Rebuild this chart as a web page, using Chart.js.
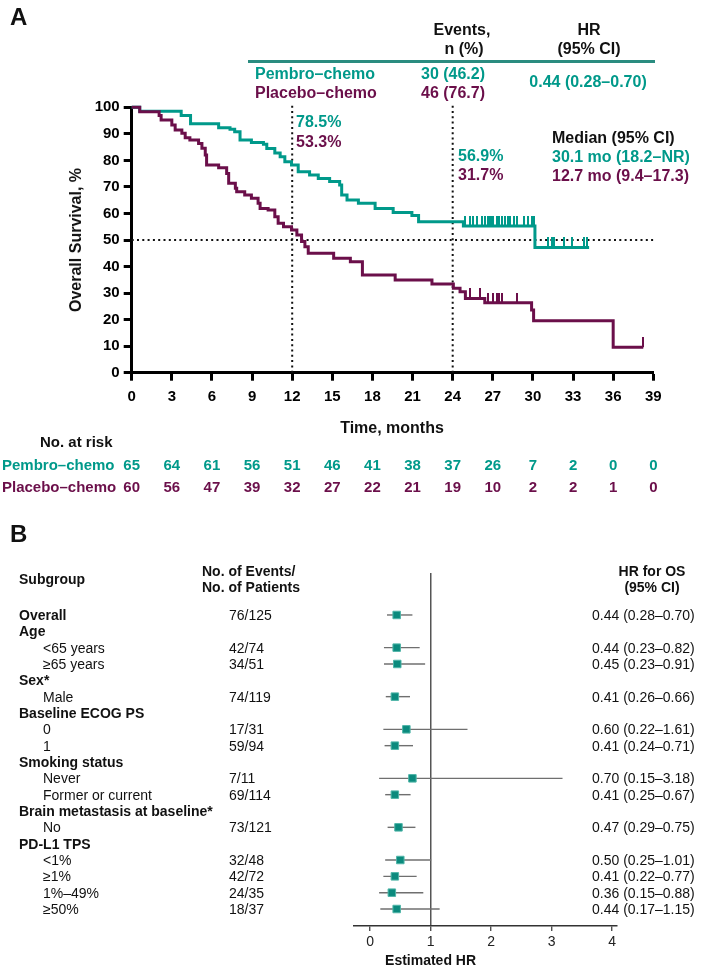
<!DOCTYPE html>
<html lang="en">
<head>
<meta charset="UTF-8">
<title>Overall survival – pembro–chemo vs placebo–chemo</title>
<script src="https://cdn.jsdelivr.net/npm/chart.js@4"></script>
<style>
  body { margin: 0; background: #fff; font-family: 'Liberation Sans', Arial, sans-serif; color: #111; }
  #page { position: relative; width: 702px; height: 970px; overflow: hidden; }
  canvas { position: absolute; left: 0; }
  #km { top: 0; }
  #forest { top: 560px; }
  .t { position: absolute; white-space: nowrap; line-height: 1; }
  .b { font-weight: bold; }
  #rule { position: absolute; left: 248px; top: 60px; width: 407px; height: 2.5px; background: #2a8c80; }
</style>
</head>
<body>
<div id="page">
  <canvas id="km" width="702" height="500"></canvas>
  <canvas id="forest" width="702" height="410"></canvas>
  <div id="rule"></div>
</div>
<script>
  const TEAL = '#00998a';
  const PLUM = '#6b0f4a';

  // Kaplan-Meier: month of each drop and survival (%) right after it
  const pembroTimes = [0, 0.6, 3.7, 4.4, 6.5, 7.35, 7.7, 8.1, 8.95, 9.85, 10.1, 10.7, 11.1, 11.45, 11.95, 12.45, 13.3, 13.95, 14.8, 15.55, 15.7, 16.1, 16.95, 18.2, 19.55, 20.95, 21.45, 24.8, 30.15, 34.2];
  const pembroSurv = [100, 98.5, 96.9, 93.8, 92.3, 91.7, 90.8, 87.7, 86.7, 86.1, 84.5, 82.8, 81.4, 79.5, 78.3, 75.7, 74.5, 73.2, 72.0, 70.7, 67.0, 65.1, 63.8, 61.9, 60.4, 59.2, 56.9, 55.3, 47.2, 47.2];
  const pembroCensored = [24.9, 25.3, 25.55, 25.8, 26.2, 26.4, 26.65, 26.8, 26.95, 27.05, 27.3, 27.5, 27.7, 27.9, 28.1, 28.3, 28.55, 28.8, 29.3, 29.65, 29.9, 30.05, 31.15, 31.4, 31.55, 32.3, 32.9, 33.8, 34.05];

  const placeboTimes = [0, 0.6, 2.05, 2.2, 3.0, 3.25, 3.75, 4.0, 4.35, 5.0, 5.25, 5.5, 5.6, 6.5, 7.1, 7.25, 7.75, 7.85, 8.45, 8.95, 9.45, 9.6, 10.2, 10.7, 10.95, 11.35, 11.95, 12.35, 12.7, 12.95, 13.2, 15.1, 16.35, 17.25, 19.7, 22.45, 24.05, 24.55, 24.95, 26.4, 29.9, 30.05, 36.0, 38.25];
  const placeboSurv = [100, 98.3, 96.9, 95.2, 93.3, 91.4, 90.2, 88.5, 87.7, 86.4, 84.6, 82.0, 78.3, 77.2, 75.1, 71.4, 69.5, 68.2, 67.0, 65.7, 63.8, 61.9, 61.3, 58.8, 56.3, 55.0, 53.8, 51.9, 49.4, 47.5, 45.0, 43.1, 41.8, 36.8, 34.9, 33.4, 31.8, 30.5, 28.0, 26.4, 23.6, 19.6, 9.6, 9.6];
  const placeboCensored = [25.3, 26.05, 26.65, 27.05, 27.3, 27.5, 27.65, 28.8, 38.25];

  const landmarkMonths = [12, 24];
  const medianLevel = 50;

  const riskTimes = [0, 3, 6, 9, 12, 15, 18, 21, 24, 27, 30, 33, 36, 39];
  const pembroAtRisk = [65, 64, 61, 56, 51, 46, 41, 38, 37, 26, 7, 2, 0, 0];
  const placeboAtRisk = [60, 56, 47, 39, 32, 27, 22, 21, 19, 10, 2, 2, 1, 0];

  // forest plot rows
  const subgroups = ['Overall', 'Age', '<65 years', '≥65 years', 'Sex*', 'Male', 'Baseline ECOG PS', '0', '1',
    'Smoking status', 'Never', 'Former or current', 'Brain metastasis at baseline*', 'No', 'PD-L1 TPS',
    '<1%', '≥1%', '1%–49%', '≥50%'];
  const isHeading = [true, true, false, false, true, false, true, false, false, true, false, false, true, false, true, false, false, false, false];
  const eventsPatients = ['76/125', '', '42/74', '34/51', '', '74/119', '', '17/31', '59/94', '', '7/11', '69/114', '', '73/121', '', '32/48', '42/72', '24/35', '18/37'];
  const hrEstimate = [0.44, null, 0.44, 0.45, null, 0.41, null, 0.60, 0.41, null, 0.70, 0.41, null, 0.47, null, 0.50, 0.41, 0.36, 0.44];
  const hrLow = [0.28, null, 0.23, 0.23, null, 0.26, null, 0.22, 0.24, null, 0.15, 0.25, null, 0.29, null, 0.25, 0.22, 0.15, 0.17];
  const hrHigh = [0.70, null, 0.82, 0.91, null, 0.66, null, 1.61, 0.71, null, 3.18, 0.67, null, 0.75, null, 1.01, 0.77, 0.88, 1.15];
  const hrTicks = [0, 1, 2, 3, 4];

  Chart.defaults.font.family = "'Liberation Sans', Arial, sans-serif";
  const page = document.getElementById('page');

  function label(str, x, y, o = {}) {
    const d = document.createElement('div');
    d.className = 't' + (o.bold ? ' b' : '');
    d.textContent = str;
    d.style.left = x + 'px';
    d.style.top = y + 'px';
    d.style.fontSize = (o.size || 16) + 'px';
    d.style.color = o.color || '#111';
    const tx = o.align === 'center' ? '-50%' : o.align === 'right' ? '-100%' : '0';
    d.style.transform = `translate(${tx}, -50%)` + (o.rotate ? ` rotate(${o.rotate}deg)` : '');
    page.appendChild(d);
  }

  function survAt(times, surv, t) {
    let s = surv[0];
    for (let i = 0; i < times.length; i++) if (times[i] <= t) s = surv[i];
    return s;
  }

  // small upward tick used as the censor mark
  function censorMark(color) {
    const c = document.createElement('canvas');
    c.width = 2; c.height = 20;
    const g = c.getContext('2d');
    g.fillStyle = color;
    g.fillRect(0, 0, 2, 10);
    return c;
  }

  function curve(times, surv, color) {
    return {
      type: 'line', data: times.map((t, i) => ({ x: t, y: surv[i] })),
      borderColor: color, borderWidth: 3, stepped: 'before', pointRadius: 0, clip: false, order: 2
    };
  }

  function censors(list, times, surv, color) {
    return {
      type: 'scatter', data: list.map(t => ({ x: t, y: survAt(times, surv, t) })),
      pointStyle: censorMark(color), pointRadius: 5, clip: false, order: 1
    };
  }

  const dotted = { type: 'line', borderColor: '#111', borderWidth: 2, borderDash: [2, 3.3], pointRadius: 0, order: 3 };

  const km = new Chart(document.getElementById('km'), {
    type: 'line',
    data: {
      datasets: [
        ...landmarkMonths.map(m => ({ ...dotted, data: [{ x: m, y: 0 }, { x: m, y: 101 }], clip: false })),
        { ...dotted, data: [{ x: 0, y: medianLevel }, { x: 39.1, y: medianLevel }], clip: false },
        curve(placeboTimes, placeboSurv, PLUM),
        curve(pembroTimes, pembroSurv, TEAL),
        censors(placeboCensored, placeboTimes, placeboSurv, PLUM),
        censors(pembroCensored, pembroTimes, pembroSurv, TEAL)
      ]
    },
    options: {
      responsive: false,
      animation: false,
      layout: { padding: { left: 91.7, right: 48.7, top: 107.3, bottom: 97.3 } },
      plugins: { legend: { display: false }, tooltip: { enabled: false } },
      scales: {
        x: {
          type: 'linear', min: 0, max: 39,
          afterFit: s => { s.height = 30; },
          border: { display: true, color: '#000', width: 3 },
          grid: { drawOnChartArea: false, drawTicks: true, tickLength: 8, tickWidth: 3, tickColor: '#000' },
          ticks: { stepSize: 3, autoSkip: false, maxRotation: 0, padding: 7, color: '#000', font: { size: 15, weight: 'bold' } }
        },
        y: {
          type: 'linear', min: 0, max: 100,
          afterFit: s => { s.width = 40; },
          border: { display: true, color: '#000', width: 3 },
          grid: { drawOnChartArea: false, drawTicks: true, tickLength: 8, tickWidth: 3, tickColor: '#000' },
          ticks: { stepSize: 10, padding: 4, color: '#000', font: { size: 15, weight: 'bold' } }
        }
      }
    }
  });

  // panel A texts
  label('A', 10, 17, { size: 24, bold: true });
  label('Events,', 462, 30, { bold: true, align: 'center' });
  label('n (%)', 464, 49, { bold: true, align: 'center' });
  label('HR', 589, 30, { bold: true, align: 'center' });
  label('(95% CI)', 589, 49, { bold: true, align: 'center' });
  label('Pembro–chemo', 255, 74, { bold: true, color: TEAL });
  label('Placebo–chemo', 255, 93, { bold: true, color: PLUM });
  label('30 (46.2)', 421, 74, { bold: true, color: TEAL });
  label('46 (76.7)', 421, 93, { bold: true, color: PLUM });
  label('0.44 (0.28–0.70)', 588, 82, { bold: true, color: TEAL, align: 'center' });

  label('78.5%', 296, 122, { bold: true, color: TEAL });
  label('53.3%', 296, 142, { bold: true, color: PLUM });
  label('56.9%', 458, 156, { bold: true, color: TEAL });
  label('31.7%', 458, 175, { bold: true, color: PLUM });
  label('Median (95% CI)', 552, 138, { bold: true });
  label('30.1 mo (18.2–NR)', 552, 157, { bold: true, color: TEAL });
  label('12.7 mo (9.4–17.3)', 552, 176, { bold: true, color: PLUM });

  label('Overall Survival, %', 76, 240, { bold: true, align: 'center', rotate: -90 });
  label('Time, months', 392, 428, { bold: true, align: 'center' });

  label('No. at risk', 40, 441, { bold: true, size: 15 });
  label('Pembro–chemo', 2, 464, { bold: true, size: 15, color: TEAL });
  label('Placebo–chemo', 2, 486, { bold: true, size: 15, color: PLUM });
  riskTimes.forEach((t, i) => {
    const x = km.scales.x.getPixelForValue(t);
    label(String(pembroAtRisk[i]), x, 464, { bold: true, size: 15, color: TEAL, align: 'center' });
    label(String(placeboAtRisk[i]), x, 486, { bold: true, size: 15, color: PLUM, align: 'center' });
  });

  // panel B: forest plot
  const rows = subgroups.map((_, i) => i).filter(i => hrEstimate[i] !== null);
  const forest = new Chart(document.getElementById('forest'), {
    type: 'scatter',
    data: {
      datasets: [
        ...rows.map(i => ({
          type: 'line', data: [{ x: hrLow[i], y: i }, { x: hrHigh[i], y: i }],
          borderColor: '#6f6f6f', borderWidth: 1.4, pointRadius: 0, order: 2
        })),
        {
          data: rows.map(i => ({ x: hrEstimate[i], y: i })),
          pointStyle: 'rect', pointRadius: 5.3, backgroundColor: '#0b8a7d', borderColor: '#4fb5a8', borderWidth: 1, order: 1
        }
      ]
    },
    options: {
      responsive: false,
      animation: false,
      layout: { padding: { left: 354, right: 85, top: 13, bottom: 24 } },
      plugins: { legend: { display: false }, tooltip: { enabled: false } },
      scales: {
        x: {
          type: 'linear', min: -0.265, max: 4.08,
          afterBuildTicks: s => { s.ticks = hrTicks.map(v => ({ value: v })); },
          afterFit: s => { s.height = 20; },
          border: { display: true, color: '#333', width: 1.5 },
          grid: {
            color: c => (c.tick && c.tick.value === 1 ? '#555' : 'rgba(0,0,0,0)'),
            lineWidth: 1.5, drawTicks: true, tickLength: 5, tickColor: '#333', tickWidth: 1.2
          },
          ticks: { padding: 3, color: '#222', font: { size: 14 } }
        },
        y: { type: 'linear', reverse: true, min: -2.57, max: 19.04, display: false }
      }
    }
  });

  const top0 = 560;
  label('B', 10, 534, { size: 24, bold: true });
  label('Subgroup', 19, 579, { bold: true, size: 14 });
  label('No. of Events/', 202, 571, { bold: true, size: 14 });
  label('No. of Patients', 202, 587, { bold: true, size: 14 });
  label('HR for OS', 652, 571, { bold: true, size: 14, align: 'center' });
  label('(95% CI)', 652, 587, { bold: true, size: 14, align: 'center' });

  subgroups.forEach((name, i) => {
    const y = top0 + forest.scales.y.getPixelForValue(i);
    label(name, isHeading[i] ? 19 : 43, y, { size: 14, bold: isHeading[i] });
    if (eventsPatients[i]) label(eventsPatients[i], 229, y, { size: 14 });
    if (hrEstimate[i] !== null) {
      label(`${hrEstimate[i].toFixed(2)} (${hrLow[i].toFixed(2)}–${hrHigh[i].toFixed(2)})`, 592, y, { size: 14 });
    }
  });
  label('Estimated HR', forest.scales.x.getPixelForValue(1), 960, { bold: true, size: 14, align: 'center' });
</script>
</body>
</html>
